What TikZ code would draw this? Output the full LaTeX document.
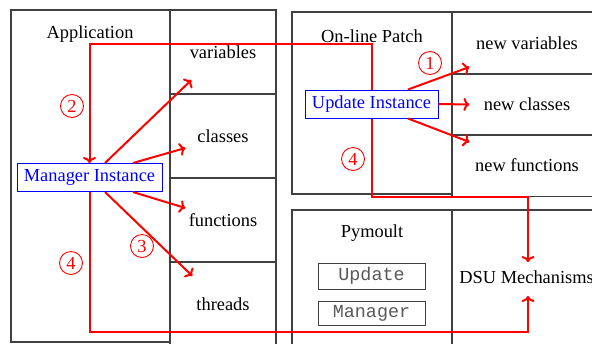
\documentclass[tikz,border=0pt]{standalone}
\usepackage{fontspec}
\usetikzlibrary{arrows.meta}
\setmainfont{Liberation Serif}
\setmonofont{Liberation Mono}
\begin{document}
\begin{tikzpicture}[x=0.5pt,y=-0.5pt,
  font=\fontsize{9.2}{11}\selectfont,
  box/.style={draw=black!75,line width=0.6pt,inner sep=0pt,rectangle},
  inst/.style={draw=blue,text=blue,line width=0.5pt,inner sep=1.6pt,rectangle,minimum height=14pt},
  code/.style={draw=black!75,line width=0.5pt,inner sep=0pt,text=black!65,font=\fontsize{9.2}{11}\ttfamily},
  arr/.style={red,line width=1pt,-{To[length=3pt,width=6.5pt]}},
  num/.style={circle,draw=red,text=red,line width=0.45pt,inner sep=0pt,minimum size=11.5pt}]
\useasboundingbox (0,0) rectangle (592,343);
% Application side
\node[box,minimum width=79.5pt,minimum height=166pt] (app) at (90.5,176) {};
\node (apptxt) at (90,34) {Application};
\node[box,minimum width=53pt,minimum height=42pt] (var) at (223,52) {variables};
\node[box,minimum width=53pt,minimum height=42pt] (cls) at (223,136) {classes};
\node[box,minimum width=53pt,minimum height=42pt] (fun) at (223,220) {functions};
\node[box,minimum width=53pt,minimum height=42pt] (thr) at (223,304) {threads};
% On-line patch
\node[box,minimum width=80pt,minimum height=91pt] (olp) at (372,103) {};
\node (olptxt) at (372,36) {On-line Patch};
\node[box,minimum width=75pt,minimum height=31pt] (nv) at (527,43) {new variables};
\node[box,minimum width=75pt,minimum height=31pt] (nc) at (527,104.5) {new classes};
\node[box,minimum width=75pt,minimum height=31pt] (nf) at (527,165.5) {new functions};
% Pymoult & DSU
\node[box,minimum width=80pt,minimum height=68pt] (pym) at (372,278) {};
\node (pymtxt) at (372,233) {Pymoult};
\node[code,minimum width=53.5pt,minimum height=13pt] (upbox) at (371.5,276) {Update};
\node[code,minimum width=53.5pt,minimum height=12pt] (mgbox) at (371.5,313) {Manager};
\node[box,minimum width=75pt,minimum height=68pt] (dsu) at (527,278) {};
\node[anchor=west,inner sep=0pt] (dsutxt) at (459,277) {DSU Mechanisms};
% instances
\node[inst,minimum width=72.5pt] (mgr) at (89.5,177.5) {Manager Instance};
\node[inst,minimum width=66.5pt] (upd) at (371.5,104) {Update Instance};
% coordinates
\coordinate (c1) at (528,197);
\coordinate (dsuT) at (528,262);
\coordinate (c2) at (528,332);
\coordinate (dsuB) at (528,296);
% red connectors
\draw[arr] (upd.north) -- ++(0,-46) -| (mgr.north);
\draw[arr] (upd.south) |- (c1) -- (dsuT);
\draw[arr] (mgr.south) |- (c2) -- (dsuB);
\draw[arr] ([shift={(15.5,0)}]mgr.north) -- ([shift={(22,28)}]var.west);
\draw[arr] ([shift={(43.5,0)}]mgr.north) -- ([shift={(16,12)}]cls.west);
\draw[arr] ([shift={(43.5,0)}]mgr.south) -- ([shift={(16,-12)}]fun.west);
\draw[arr] ([shift={(15.5,0)}]mgr.south) -- ([shift={(23,-28)}]thr.west);
\draw[arr] ([shift={(36.5,0)}]upd.north) -- ([shift={(18,24)}]nv.west);
\draw[arr] (upd.east) -- ([shift={(18,0)}]nc.west);
\draw[arr] ([shift={(36.5,0)}]upd.south) -- ([shift={(18,-23.5)}]nf.west);
% numbers
\node[num] (n1) at (430,63) {1};
\node[num] (n2) at (72,106) {2};
\node[num] (n3) at (142,246) {3};
\node[num] (n4a) at (71,263) {4};
\node[num] (n4b) at (353,159) {4};
\end{tikzpicture}
\end{document}
